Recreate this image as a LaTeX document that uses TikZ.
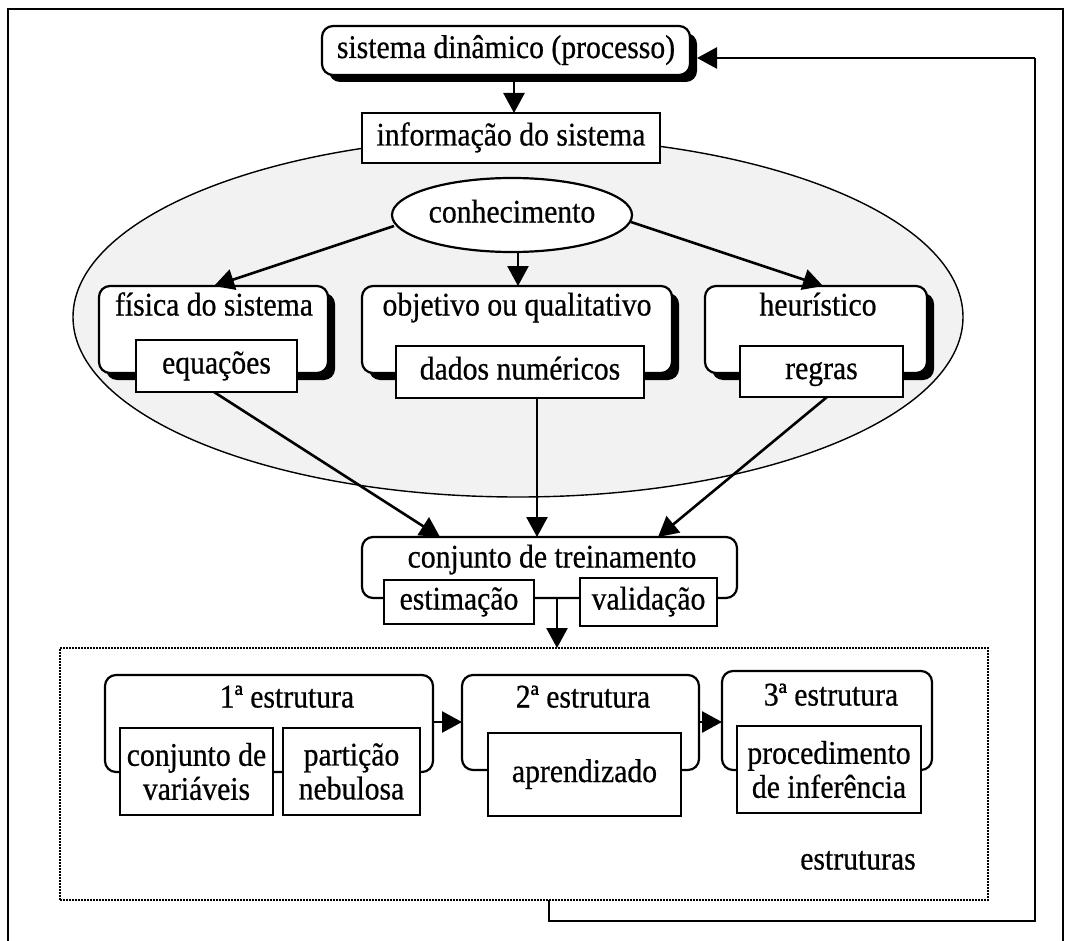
\documentclass[tikz,border=0pt]{standalone}
\usepackage{fontspec}
\setmainfont{Liberation Serif}[FakeStretch=0.9, FakeBold=0.6]
\usetikzlibrary{arrows.meta,shadows,shapes.geometric}

\begin{document}
\begin{tikzpicture}[x=1pt,y=-1pt,
  every node/.style={font=\fontsize{33}{34}\selectfont, inner sep=0pt, outer sep=0pt},
  txt/.style={text height=22pt, text depth=7pt},
  plainbox/.style={draw, line width=2.2pt, fill=white, txt},
  twoline/.style={draw, line width=2.2pt, fill=white, align=center},
  roundbox/.style={draw, line width=2.2pt, fill=white, rounded corners=11pt},
  shadowbox/.style={roundbox, drop shadow={shadow xshift=7pt, shadow yshift=-7pt, fill=black, opacity=1}},
  arr/.style={line width=2.6pt, -{Triangle[length=20pt,width=21pt]}},
  link/.style={line width=2.6pt},
  framepath/.style={line width=1.6pt},
  groupbox/.style={draw, line width=1.8pt, dash pattern=on 2pt off 1pt},
  area/.style={draw, ellipse, line width=1.4pt, fill=black!5}
]
\useasboundingbox (0,0) rectangle (1067,941);

% outer frame, open at the bottom edge of the page
\draw[framepath] (8,941) -- (8,9) -- (1063,9) -- (1063,941);

% knowledge region
\node[area, minimum width=890pt, minimum height=360pt] (region) at (518,317) {};

% process and information
\node[shadowbox, txt, minimum width=368pt, minimum height=49pt] (sis) at (506,50.5) {sistema dinâmico (processo)};
\node[plainbox, minimum width=298pt, minimum height=50pt] (info) at (511,138) {informação do sistema};
\coordinate (ax1) at (514,0);
\draw[arr] (sis.south -| ax1) -- (info.north -| ax1);

% knowledge
\node[draw, ellipse, line width=2.2pt, fill=white, txt, minimum width=240pt, minimum height=74pt] (con) at (512,215) {conhecimento};

% three kinds of knowledge
\node[shadowbox, minimum width=229pt, minimum height=87pt] (fis) at (213.5,329.5) {};
\node[txt] (tFis) at (214,308) {física do sistema};
\node[plainbox, minimum width=161pt, minimum height=52pt] (eq) at (216.5,366) {equações};

\node[shadowbox, minimum width=310pt, minimum height=87pt] (obj) at (517,329.5) {};
\node[txt] (tObj) at (517,308) {objetivo ou qualitativo};
\node[plainbox, minimum width=248pt, minimum height=52pt] (dados) at (520,372) {dados numéricos};

\node[shadowbox, minimum width=222pt, minimum height=87pt] (heu) at (816,329.5) {};
\node[txt] (tHeu) at (818,308) {heurístico};
\node[plainbox, minimum width=163pt, minimum height=51pt] (regras) at (821.5,371.5) {regras};

% arrows from knowledge
\coordinate (cL) at (394,226);
\coordinate (cR) at (631,222);
\coordinate (xm) at (518,0);
\draw[arr] (cL) -- (214,286);
\draw[arr] (con.south -| xm) -- (obj.north -| xm);
\draw[arr] (cR) -- (823,286);

% training set
\node[roundbox, minimum width=375pt, minimum height=61pt] (conj) at (549.5,567.5) {};
\node[txt] (tConj) at (552,560) {conjunto de treinamento};
\node[plainbox, minimum width=150pt, minimum height=44pt] (est) at (459,602) {estimação};
\node[plainbox, minimum width=137pt, minimum height=48pt] (val) at (648.5,602) {validação};

\coordinate (eqOut) at (214,392);
\coordinate (dOut) at (537,398);
\coordinate (rOut) at (827,397);
\draw[arr] (eqOut) -- (440,537);
\draw[arr] (dOut) -- (dOut |- conj.north);
\draw[arr] (rOut) -- (658,537);

% structures group
\node[groupbox, minimum width=928pt, minimum height=252pt] (grp) at (524,774) {};
\coordinate (xg) at (557,0);
\draw[arr] (conj.south -| xg) -- (grp.north -| xg);

\node[roundbox, minimum width=328pt, minimum height=97pt] (s1) at (269,723.5) {};
\node[txt] (tS1) at (287,700) {1ª estrutura};
\node[twoline, minimum width=153pt, minimum height=87pt] (cv) at (196.5,771.5) {conjunto de\\variáveis};
\node[twoline, minimum width=137pt, minimum height=87pt] (pn) at (351.5,771.5) {partição\\nebulosa};

\node[roundbox, minimum width=237pt, minimum height=95pt] (s2) at (580.5,722.5) {};
\node[txt] (tS2) at (583,700) {2ª estrutura};
\node[plainbox, minimum width=193pt, minimum height=83pt] (apr) at (584.5,774.5) {aprendizado};

\node[roundbox, minimum width=210pt, minimum height=99pt] (s3) at (827,720.5) {};
\node[txt] (tS3) at (831,698) {3ª estrutura};
\node[twoline, minimum width=184pt, minimum height=87pt] (proc) at (829,769.5) {procedimento\\de inferência};

\node[txt] (tEstr) at (858,862) {estruturas};

\coordinate (ya) at (0,722);
\draw[arr] (s1.east |- ya) -- (s2.west |- ya);
\draw[arr] (s2.east |- ya) -- (s3.west |- ya);

% feedback loop back to the process
\coordinate (fb0) at (549,900);
\coordinate (fb1) at (549,921);
\coordinate (fb2) at (1035,921);
\coordinate (fb3) at (1035,58);
\coordinate (sisR) at ([xshift=7pt]sis.east);
\draw[link] (fb0) -- (fb1) -- (fb2) -- (fb3);
\draw[arr] (fb3) -- (fb3 -| sisR);
\end{tikzpicture}
\end{document}
